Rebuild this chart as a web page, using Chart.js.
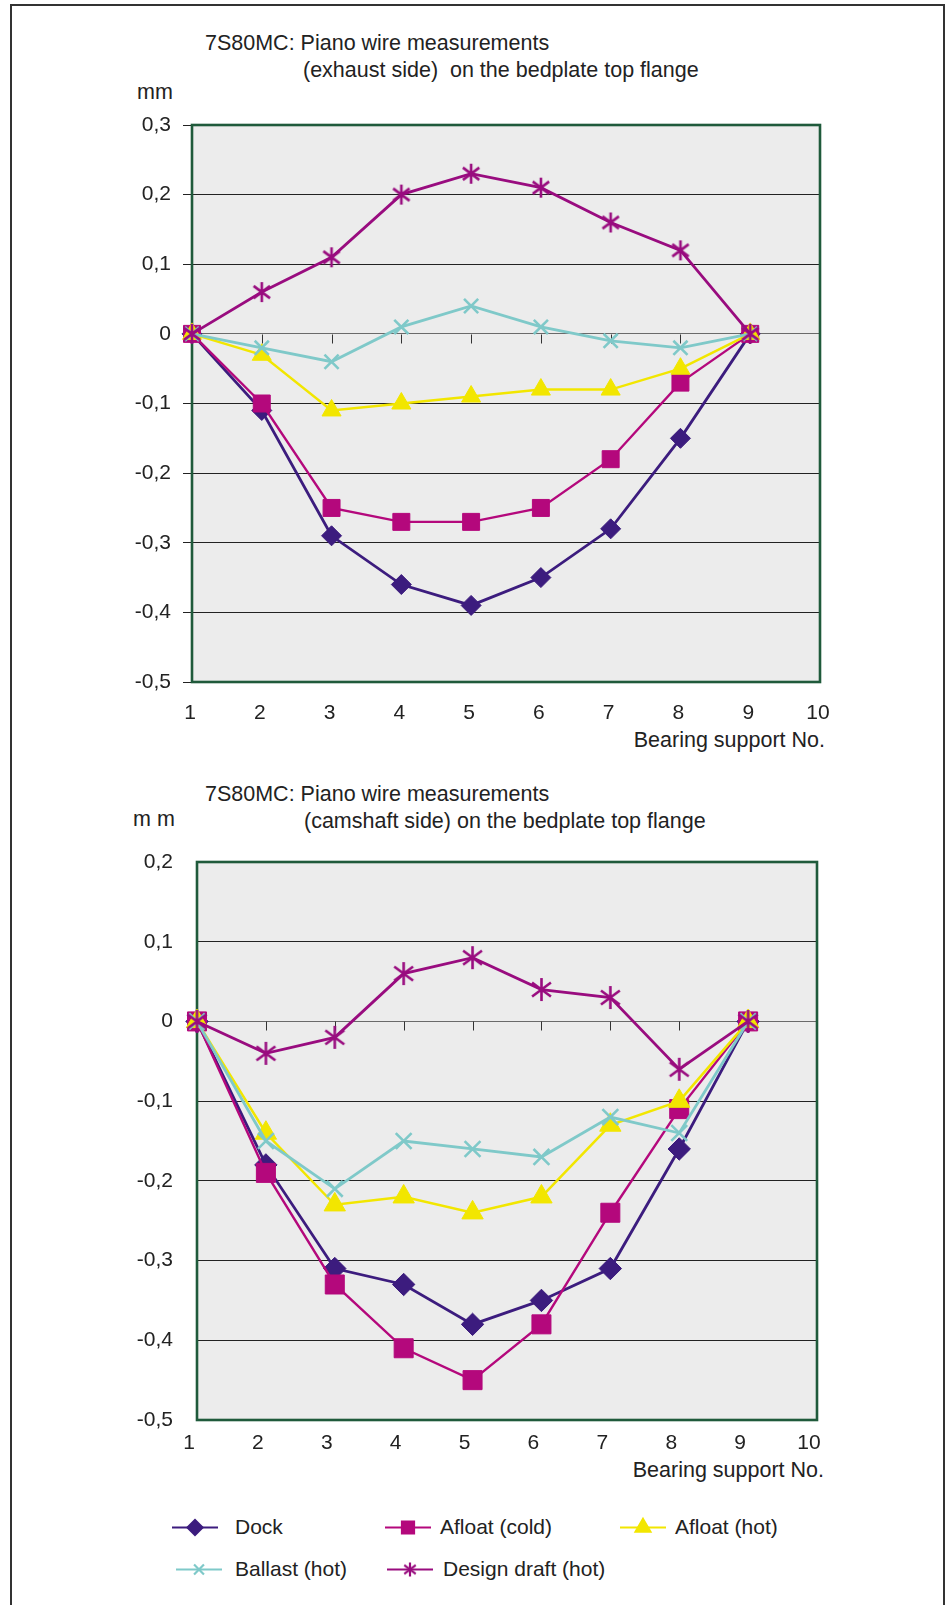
<!DOCTYPE html>
<html lang="en">
<head>
  <meta charset="UTF-8" />
  <title>7S80MC piano wire measurements</title>
  <script src="https://cdn.jsdelivr.net/npm/chart.js"></script>
  <style>
    body {
      margin: 0;
      background: #fff;
      font-family: 'Liberation Sans', Arial, sans-serif;
      color: #222;
    }
    .page {
      position: relative;
      width: 951px;
      height: 1605px;
      overflow: hidden;
    }
    .frame {
      position: absolute;
      left: 10px;
      top: 4px;
      width: 931px;
      height: 1700px;
      border: 2px solid #333;
    }
    .txt {
      position: absolute;
      font-size: 21.5px;
      line-height: 24px;
      white-space: pre;
    }
    .right { text-align: right; }
    canvas.chart { position: absolute; left: 0; }
    .leg {
      position: absolute;
      font-size: 21px;
      line-height: 24px;
      white-space: pre;
    }
  </style>
</head>
<body>
<div class="page">
  <div class="frame"></div>

  <div class="txt" style="left:205px; top:31px;">7S80MC: Piano wire measurements</div>
  <div class="txt" style="left:303px; top:58px;">(exhaust side)  on the bedplate top flange</div>
  <div class="txt" style="left:137px; top:80px;">mm</div>
  <div class="txt right" style="left:525px; width:300px; top:728px;">Bearing support No.</div>
  <canvas class="chart" id="exhaustChart" style="top:100px;"></canvas>

  <div class="txt" style="left:205px; top:782px;">7S80MC: Piano wire measurements</div>
  <div class="txt" style="left:304px; top:809px;">(camshaft side) on the bedplate top flange</div>
  <div class="txt" style="left:133px; top:807px;">m m</div>
  <div class="txt right" style="left:524px; width:300px; top:1458px;">Bearing support No.</div>
  <canvas class="chart" id="camshaftChart" style="top:840px;"></canvas>

  <div id="legend"></div>
</div>

<script>
  // bearing support numbers
  const bearings = [1, 2, 3, 4, 5, 6, 7, 8, 9];

  // exhaust side (mm)
  const exhDock       = [0, -0.11, -0.29, -0.36, -0.39, -0.35, -0.28, -0.15, 0];
  const exhAfloatCold = [0, -0.10, -0.25, -0.27, -0.27, -0.25, -0.18, -0.07, 0];
  const exhAfloatHot  = [0, -0.03, -0.11, -0.10, -0.09, -0.08, -0.08, -0.05, 0];
  const exhBallast    = [0, -0.02, -0.04, 0.01, 0.04, 0.01, -0.01, -0.02, 0];
  const exhDesign     = [0, 0.06, 0.11, 0.20, 0.23, 0.21, 0.16, 0.12, 0];

  // camshaft side (mm)
  const camDock       = [0, -0.18, -0.31, -0.33, -0.38, -0.35, -0.31, -0.16, 0];
  const camAfloatCold = [0, -0.19, -0.33, -0.41, -0.45, -0.38, -0.24, -0.11, 0];
  const camAfloatHot  = [0, -0.14, -0.23, -0.22, -0.24, -0.22, -0.13, -0.10, 0];
  const camBallast    = [0, -0.15, -0.21, -0.15, -0.16, -0.17, -0.12, -0.14, 0];
  const camDesign     = [0, -0.04, -0.02, 0.06, 0.08, 0.04, 0.03, -0.06, 0];

  const seriesNames = ["Dock", "Afloat (cold)", "Afloat (hot)", "Ballast (hot)", "Design draft (hot)"];
  const colors = ["#3c1c7e", "#b4087c", "#f2e600", "#7fc9c9", "#990c7f"];
  const fontFam = "'Liberation Sans', Arial, sans-serif";

  // six-armed asterisk marker used for the design draft series
  function asterisk(size, color, lw) {
    const c = document.createElement("canvas");
    c.width = size; c.height = size;
    const g = c.getContext("2d");
    const m = size / 2, r = size / 2 - 1;
    g.strokeStyle = color;
    g.lineWidth = lw;
    g.beginPath();
    g.moveTo(m, m - r); g.lineTo(m, m + r);
    const d = r * 0.82;
    g.moveTo(m - d, m - d * 0.75); g.lineTo(m + d, m + d * 0.75);
    g.moveTo(m + d, m - d * 0.75); g.lineTo(m - d, m + d * 0.75);
    g.stroke();
    return c;
  }

  const styles = [
    { pointStyle: "rectRot", pointRadius: 10, width: 2.8, order: 5 },
    { pointStyle: "rect", pointRadius: 12, width: 2.4, order: 4 },
    { pointStyle: "triangle", pointRadius: 11, width: 2.5, order: 3 },
    { pointStyle: "crossRot", pointRadius: 10, width: 2.8, order: 2 },
    { pointStyle: null, pointRadius: 11, width: 2.8, order: 1 }
  ];

  function makeDatasets(list, k) {
    const star = asterisk(Math.round(22 * k), colors[4], 2.6);
    return list.map((vals, i) => ({
      label: seriesNames[i],
      data: bearings.map((b, j) => ({ x: b, y: vals[j] })),
      borderColor: colors[i],
      backgroundColor: colors[i],
      borderWidth: styles[i].width,
      pointStyle: i === 4 ? star : styles[i].pointStyle,
      pointRadius: styles[i].pointRadius * k,
      pointBorderWidth: i === 3 ? 2.6 : 1,
      pointBorderColor: colors[i],
      pointBackgroundColor: colors[i],
      tension: 0,
      clip: false,
      order: styles[i].order
    }));
  }

  const fmt = v => {
    if (Math.abs(v) < 1e-9) return "0";
    return v.toFixed(1).replace(".", ",");
  };

  // grey plot background, green frame and the small ticks on the zero line
  const plotFrame = {
    id: "plotFrame",
    beforeDraw(chart) {
      const a = chart.chartArea, ctx = chart.ctx;
      ctx.save();
      ctx.fillStyle = "#ececec";
      ctx.fillRect(a.left, a.top, a.right - a.left, a.bottom - a.top);
      ctx.restore();
    },
    beforeDatasetsDraw(chart) {
      const a = chart.chartArea, ctx = chart.ctx;
      const xs = chart.scales.x, ys = chart.scales.y;
      const y0 = Math.round(ys.getPixelForValue(0)) + 0.5;
      ctx.save();
      ctx.strokeStyle = "#333";
      ctx.lineWidth = 1;
      ctx.beginPath();
      for (let t = 2; t <= 10; t++) {
        const x = Math.round(xs.getPixelForValue(t)) + 0.5;
        ctx.moveTo(x, y0);
        ctx.lineTo(x, y0 + 9);
      }
      ctx.stroke();
      ctx.strokeStyle = "#1f5a3b";
      ctx.lineWidth = 2.6;
      ctx.strokeRect(a.left, a.top, a.right - a.left, a.bottom - a.top);
      ctx.restore();
    }
  };

  function makeChart(id, height, lists, opt) {
    const cv = document.getElementById(id);
    cv.width = 951; cv.height = height;
    cv.style.width = "951px"; cv.style.height = height + "px";
    return new Chart(cv, {
      type: "line",
      data: { datasets: makeDatasets(lists, opt.k) },
      options: {
        responsive: false,
        animation: false,
        layout: { padding: { left: 0, top: opt.top, right: 951 - opt.right, bottom: 0 } },
        plugins: { legend: { display: false }, tooltip: { enabled: false } },
        scales: {
          x: {
            type: "linear",
            min: 1, max: 10,
            afterFit: s => { s.height = height - opt.bottom; s.paddingLeft = 0; s.paddingRight = 0; },
            grid: { display: false },
            border: { display: false },
            ticks: {
              stepSize: 1,
              padding: opt.xPad,
              labelOffset: opt.xOffset,
              color: "#222",
              font: { family: fontFam, size: 21 }
            }
          },
          y: {
            min: opt.yMin, max: opt.yMax,
            afterFit: s => { s.width = opt.left; s.paddingTop = 0; s.paddingBottom = 0; },
            border: { display: false },
            grid: {
              color: ctx => Math.abs(ctx.tick.value) < 1e-9 ? "#6a6a6a" : "#222",
              lineWidth: 1,
              drawTicks: opt.yTicks,
              tickLength: 9
            },
            ticks: {
              stepSize: 0.1,
              padding: opt.yPad,
              color: "#222",
              callback: v => fmt(v),
              font: { family: fontFam, size: 21 }
            }
          }
        }
      },
      plugins: [plotFrame]
    });
  }

  makeChart("exhaustChart", 660,
    [exhDock, exhAfloatCold, exhAfloatHot, exhBallast, exhDesign],
    { left: 192, right: 820, top: 25, bottom: 582, yMin: -0.5, yMax: 0.3, yTicks: true, yPad: 12, xPad: 11, xOffset: -2, k: 1 });

  makeChart("camshaftChart", 640,
    [camDock, camAfloatCold, camAfloatHot, camBallast, camDesign],
    { left: 197, right: 817, top: 22, bottom: 580, yMin: -0.5, yMax: 0.2, yTicks: false, yPad: 24, xPad: 3, xOffset: -8, k: 1.12 });

  // legend below the second chart
  const legendPos = [
    { line: 172, text: 235, y: 1527 },
    { line: 385, text: 440, y: 1527 },
    { line: 620, text: 675, y: 1527 },
    { line: 176, text: 235, y: 1569 },
    { line: 387, text: 443, y: 1569 }
  ];
  const legendStar = asterisk(16, colors[4], 2.2);
  const legend = document.getElementById("legend");
  seriesNames.forEach((name, i) => {
    const p = legendPos[i];
    const c = document.createElement("canvas");
    c.width = 46; c.height = 22;
    c.style.left = p.line + "px";
    c.style.top = (p.y - 11) + "px";
    c.style.position = "absolute";
    const g = c.getContext("2d");
    g.strokeStyle = colors[i];
    g.fillStyle = colors[i];
    g.lineWidth = 2.2;
    g.beginPath(); g.moveTo(0, 11.5); g.lineTo(46, 11.5); g.stroke();
    if (i === 4) {
      g.drawImage(legendStar, 23 - 8, 11.5 - 8);
    } else {
      const r = [7.5, 8.5, 8.5, 7][i];
      Chart.helpers.drawPoint(g, { pointStyle: styles[i].pointStyle, radius: r, rotation: 0, borderWidth: i === 3 ? 2.2 : 1 }, 23, 11.5);
    }
    legend.appendChild(c);
    const t = document.createElement("div");
    t.className = "leg";
    t.style.left = p.text + "px";
    t.style.top = (p.y - 12) + "px";
    t.textContent = name;
    legend.appendChild(t);
  });
</script>
</body>
</html>
